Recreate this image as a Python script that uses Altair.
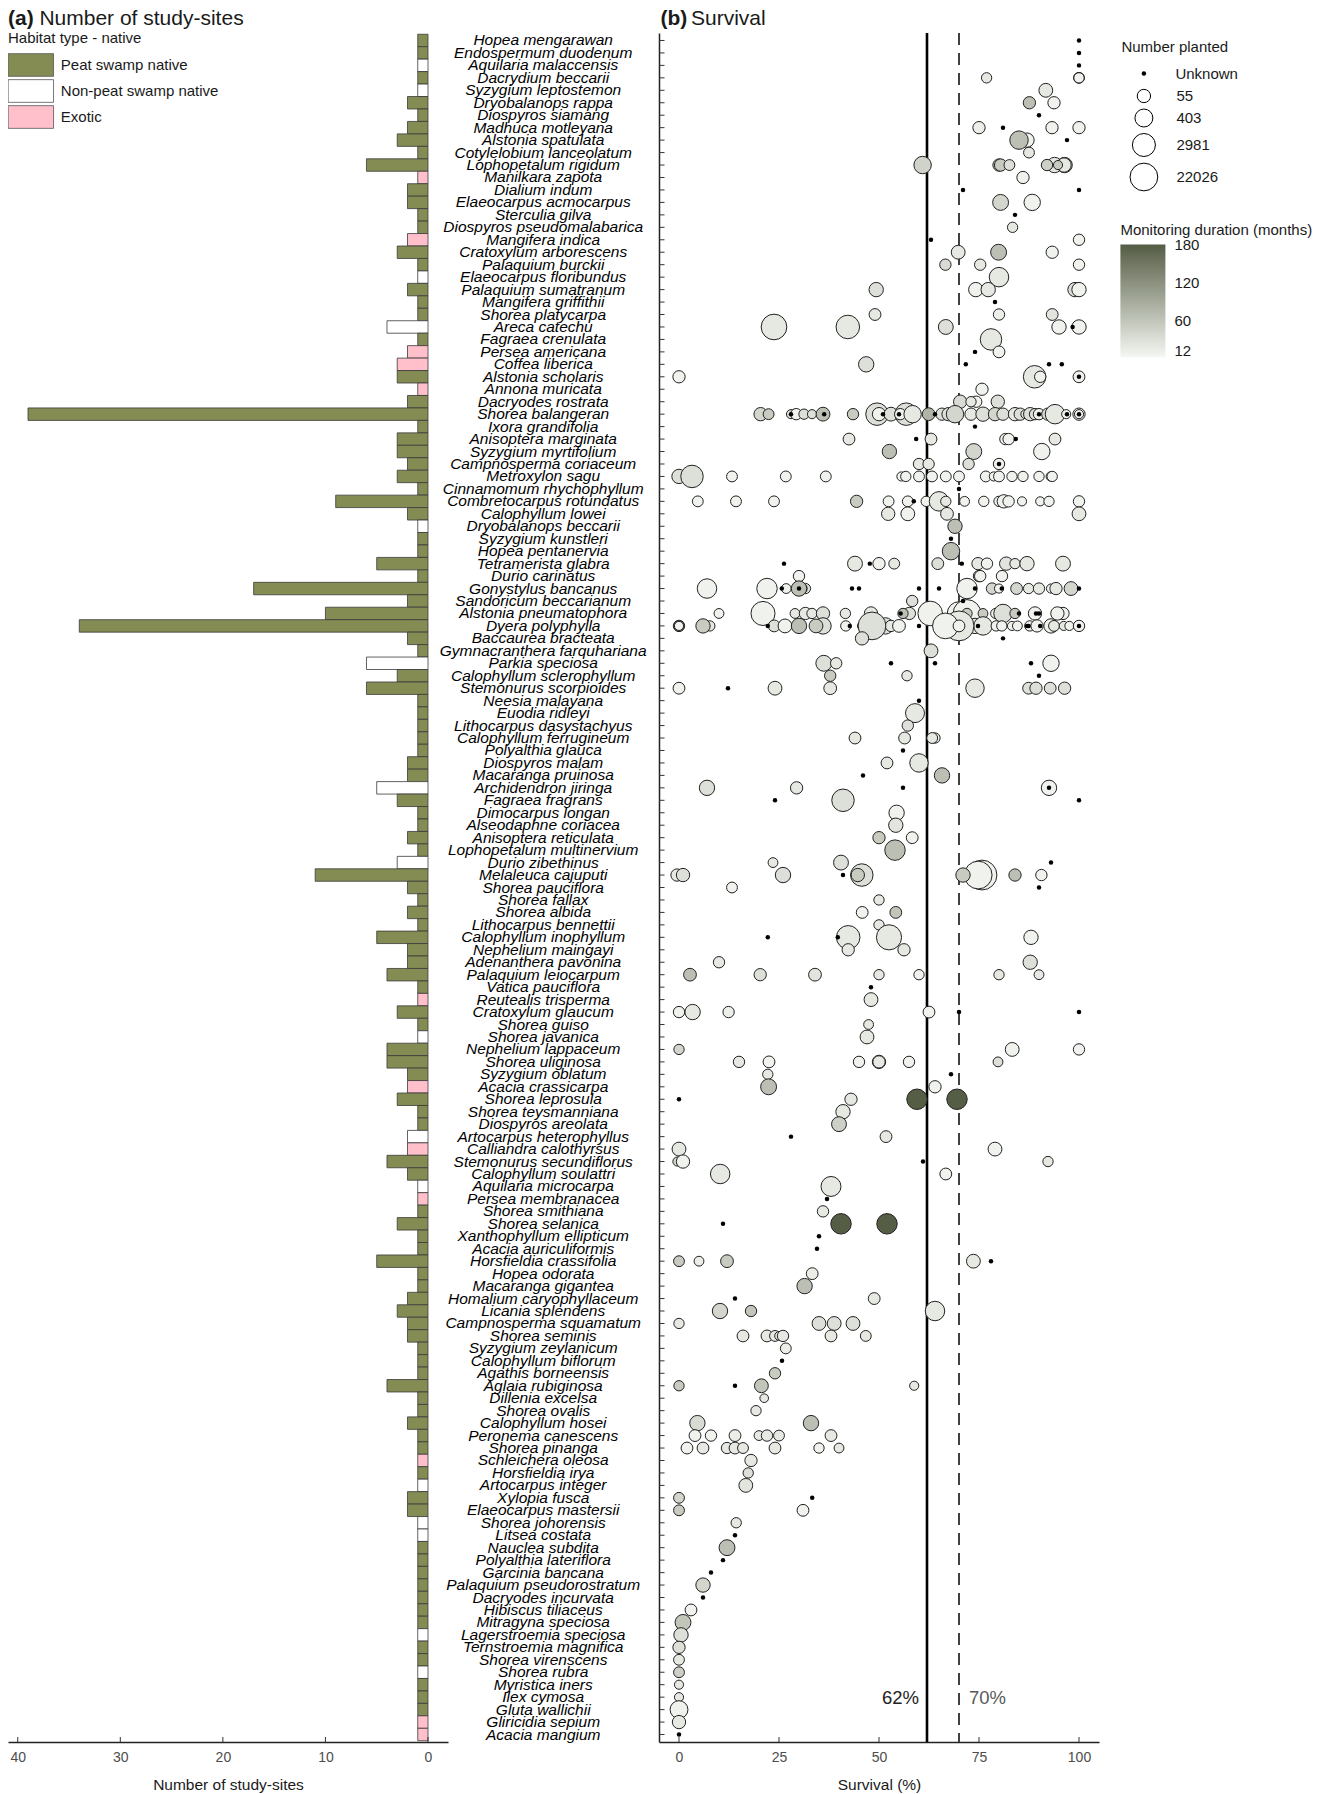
import altair as alt
import pandas as pd

FONT = "Liberation Sans"
species = """Hopea mengarawan|Endospermum duodenum|Aquilaria malaccensis|Dacrydium beccarii|Syzygium leptostemon|Dryobalanops rappa|Diospyros siamang|Madhuca motleyana|Alstonia spatulata|Cotylelobium lanceolatum|Lophopetalum rigidum|Manilkara zapota|Dialium indum|Elaeocarpus acmocarpus|Sterculia gilva|Diospyros pseudomalabarica|Mangifera indica|Cratoxylum arborescens|Palaquium burckii|Elaeocarpus floribundus|Palaquium sumatranum|Mangifera griffithii|Shorea platycarpa|Areca catechu|Fagraea crenulata|Persea americana|Coffea liberica|Alstonia scholaris|Annona muricata|Dacryodes rostrata|Shorea balangeran|Ixora grandifolia|Anisoptera marginata|Syzygium myrtifolium|Campnosperma coriaceum|Metroxylon sagu|Cinnamomum rhychophyllum|Combretocarpus rotundatus|Calophyllum lowei|Dryobalanops beccarii|Syzygium kunstleri|Hopea pentanervia|Tetramerista glabra|Durio carinatus|Gonystylus bancanus|Sandoricum beccarianum|Alstonia pneumatophora|Dyera polyphylla|Baccaurea bracteata|Gymnacranthera farquhariana|Parkia speciosa|Calophyllum sclerophyllum|Stemonurus scorpioides|Neesia malayana|Euodia ridleyi|Lithocarpus dasystachyus|Calophyllum ferrugineum|Polyalthia glauca|Diospyros malam|Macaranga pruinosa|Archidendron jiringa|Fagraea fragrans|Dimocarpus longan|Alseodaphne coriacea|Anisoptera reticulata|Lophopetalum multinervium|Durio zibethinus|Melaleuca cajuputi|Shorea pauciflora|Shorea fallax|Shorea albida|Lithocarpus bennettii|Calophyllum inophyllum|Nephelium maingayi|Adenanthera pavonina|Palaquium leiocarpum|Vatica pauciflora|Reutealis trisperma|Cratoxylum glaucum|Shorea guiso|Shorea javanica|Nephelium lappaceum|Shorea uliginosa|Syzygium oblatum|Acacia crassicarpa|Shorea leprosula|Shorea teysmanniana|Diospyros areolata|Artocarpus heterophyllus|Calliandra calothyrsus|Stemonurus secundiflorus|Calophyllum soulattri|Aquilaria microcarpa|Persea membranacea|Shorea smithiana|Shorea selanica|Xanthophyllum ellipticum|Acacia auriculiformis|Horsfieldia crassifolia|Hopea odorata|Macaranga gigantea|Homalium caryophyllaceum|Licania splendens|Campnosperma squamatum|Shorea seminis|Syzygium zeylanicum|Calophyllum biflorum|Agathis borneensis|Aglaia rubiginosa|Dillenia excelsa|Shorea ovalis|Calophyllum hosei|Peronema canescens|Shorea pinanga|Schleichera oleosa|Horsfieldia irya|Artocarpus integer|Xylopia fusca|Elaeocarpus mastersii|Shorea johorensis|Litsea costata|Nauclea subdita|Polyalthia lateriflora|Garcinia bancana|Palaquium pseudorostratum|Dacryodes incurvata|Hibiscus tiliaceus|Mitragyna speciosa|Lagerstroemia speciosa|Ternstroemia magnifica|Shorea virenscens|Shorea rubra|Myristica iners|Ilex cymosa|Gluta wallichii|Gliricidia sepium|Acacia mangium""".split("|")

sites = [1,1,1,1,1,2,1,2,3,1,
         6,1,2,2,1,1,2,3,1,1,
         2,1,1,4,1,2,3,3,1,2,
         39,1,3,3,2,3,1,9,2,1,
         1,1,5,1,17,2,10,34,2,1,
         6,3,6,1,1,1,1,1,2,2,
         5,3,1,1,2,1,3,11,2,1,
         2,1,5,2,2,4,1,1,3,1,
         1,4,4,2,2,3,1,1,2,2,
         4,2,1,1,1,3,1,1,5,1,
         1,2,3,2,2,1,1,1,4,1,
         1,2,1,1,1,1,1,2,2,1,
         1,1,1,1,1,1,1,1,1,1,
         1,1,1,1,1,1,1]

# P = peat swamp native, N = non-peat swamp native, E = exotic
habitat_codes = ("PPNPNPPPPP" "PEPPPPEPPN" "PPPNPEEPEP" "PPPPPPPPPN" "PPPPPPPPPP"
                 "NPPPPPPPPP" "NPPPPPNPPP" "PPPPPPPEPP" "NPPPEPPPNE" "PPNEPPPPPP"
                 "PPPPPPPPPP" "PPPPEPNPPN" "NPPPPPPPNP" "PNPPPEE")
habitat_names = {"P": "Peat swamp native", "N": "Non-peat swamp native", "E": "Exotic"}
habitat_order = ["Peat swamp native", "Non-peat swamp native", "Exotic"]
habitat_colors = ["#848C53", "#FFFFFF", "#FFC0CB"]

# (survival %, number planted [1 = unknown], monitoring months), one list per species
points = [
 [(100,1,0)],
 [(100,1,0)],
 [(100,1,0)],
 [(76.9,9,19),(100,12,8),(100,9,8)],
 [(91.7,66,19)],
 [(87.6,28,66),(93.75,28,8)],
 [(90,1,0)],
 [(75,28,12),(81,1,0),(93.25,28,8),(100,28,8)],
 [(87,81,8),(85,483,66),(97,1,0)],
 [(87.5,12,19)],
 [(60.9,313,45),(80,28,54),(80.4,28,54),(82.6,12,29),(93.9,123,19),(96.4,123,19),(96.25,81,19),(92,16,48),(94.75,5,54)],
 [(86,28,8)],
 [(71,1,0),(100,1,0)],
 [(80.4,155,41),(88.3,194,8)],
 [(84,1,0)],
 [(83.4,9,19)],
 [(63,1,0),(100,16,8)],
 [(69.8,66,19),(79.9,155,66),(93.3,28,8)],
 [(66.6,16,35),(75.3,16,19),(100,16,8)],
 [(80,700,19)],
 [(49.3,81,29),(74.2,81,8),(77.3,81,19),(99,81,29),(100,81,8)],
 [(79,1,0)],
 [(49,21,19),(80,16,12),(93.3,21,24)],
 [(23.75,8700,19),(42.2,3640,19),(66.7,100,29),(95,81,8),(100,81,8),(98.4,1,0)],
 [(78,1540,19)],
 [(74,1,0),(80,21,8)],
 [(46.8,123,29),(71.7,1,0),(92.5,1,0),(95.7,1,0)],
 [(0,28,8),(88.9,2370,19),(90.3,16,8),(100,21,8),(100,1,0)],
 [(75.75,28,8)],
 [(70.3,55,35),(74.3,16,8),(73,9,19),(79.7,55,29)],
 [(20.4,55,41),(22.4,12,54),(28,5,29),(29.3,16,8),(28,1,0),(31.25,9,29),(33.25,5,29),(36,66,66),(36.3,1,0),(43.5,16,54),(49.5,2370,29),(50,55,8),(51,1,0),(53,66,29),(56.8,2370,29),(55.3,16,8),(55,1,0),(58.4,313,19),(62.4,38,80),(64,1,0),(65.75,28,29),(67.4,55,29),(69,313,41),(73,28,19),(76,81,29),(79,55,41),(81,28,29),(84,55,19),(85.3,28,29),(86.6,5,29),(87.8,55,29),(89,16,29),(90,16,8),(90,1,0),(92.2,28,41),(94,700,19),(96.8,5,8),(97,1,0),(100,28,8),(100,5,8),(100,1,0)],
 [(74,1,0)],
 [(42.5,21,19),(59.3,1,0),(63,21,19),(81.6,16,8),(82.4,16,8),(84.2,1,0),(94,21,19)],
 [(52.6,81,66),(73.7,155,41),(90.7,194,8)],
 [(60,16,19),(62.4,16,19),(72.4,16,29),(80,16,8),(80,1,0)],
 [(0,81,29),(3.25,2370,29),(13.25,12,8),(26.7,12,8),(36.7,12,8),(55.6,5,8),(56.7,9,8),(60,12,8),(63.25,12,8),(66.7,12,8),(70,12,8),(76.7,12,8),(78.7,5,8),(80,12,8),(83.25,9,8),(86,9,8),(90,9,8),(92.9,5,8),(93.3,9,8)],
 [(70,1,0)],
 [(4.7,12,8),(14.25,12,8),(23.75,12,8),(44.4,28,54),(52.4,12,8),(57.2,12,8),(58.7,1,0),(61.8,9,8),(65,700,19),(66.7,9,19),(71.4,7,8),(76.2,9,8),(80,9,8),(81.2,55,8),(82.4,16,8),(85.75,5,8),(90.3,5,8),(92.5,9,8),(100,16,8)],
 [(52.3,55,19),(57.2,66,8),(67,38,19),(100,66,19)],
 [(69,81,66)],
 [(68,1,0)],
 [(68,313,66)],
 [(26.25,1,0),(44,100,19),(47.7,1,0),(50,28,8),(53.8,12,19),(64.7,21,29),(70.7,1,0),(74.75,28,19),(77,16,8),(81.8,55,24),(84,9,19),(87,81,19),(96,100,19)],
 [(30,16,8),(75,16,8),(75.3,16,8),(80.75,16,8)],
 [(7,700,8),(22,1020,8),(25.7,1,0),(26.8,7,8),(31.6,9,29),(30.75,9,29),(30,123,66),(30,1,0),(43.25,1,0),(45,1,0),(60,1,0),(65,1,0),(72,1020,8),(74,1,0),(78.25,16,41),(80,5,8),(80.7,1,0),(84.4,21,41),(87.4,9,19),(90,16,19),(93,5,8),(94.25,28,19),(98,66,41),(100,1,0)],
 [(58.3,16,29),(71,1,0)],
 [(10,7,8),(21,4500,8),(29,7,19),(31.6,28,19),(33.25,9,19),(36,55,29),(41.6,9,19),(48,55,19),(57.6,28,29),(56,9,66),(55.4,1,0),(62.8,5590,8),(70,3640,8),(72,22026,8),(72,9,54),(76,7,54),(79.2,9,8),(81,483,29),(84,9,54),(85,1,0),(89,55,8),(89.25,1,0),(90,1,0),(96,28,8),(94.6,55,8)],
 [(0,16,8),(0,9,8),(0,5,8),(7.7,9,19),(6,81,54),(22.2,1,0),(23.8,21,29),(26.5,66,8),(36,194,29),(30,123,66),(34.25,66,54),(41.7,9,8),(42.7,1,0),(45.75,5,29),(51.6,194,29),(53,16,19),(55,38,8),(48.25,22026,29),(60,1,0),(74,123,19),(76,483,19),(70,60000,19),(66.6,8700,8),(70,21,8),(74.75,1,0),(79.3,9,8),(80.7,9,8),(83.25,5,8),(84.6,7,8),(87.7,9,8),(87,1,0),(87.4,1,0),(89.5,28,8),(93,81,8),(90.3,1,0),(93.75,12,19),(96.2,5,19),(97.6,5,8),(100,16,8),(100,1,0)],
 [(45.75,55,29),(81,1,0)],
 [(63,66,29)],
 [(36.2,155,29),(39.3,16,19),(53,1,0),(64,1,0),(88,1,0),(93,194,8)],
 [(37.8,16,54),(57,9,19),(90,1,0)],
 [(0,21,8),(12.25,1,0),(24,66,19),(37.8,38,19),(74,483,19),(87.4,21,29),(89.25,28,29),(92.8,21,29),(96.4,28,29)],
 [(60,1,0)],
 [(59,580,19)],
 [(57.2,16,29)],
 [(44,21,19),(56.4,21,19),(64,9,8),(63.3,12,19)],
 [(56,1,0)],
 [(52,21,19),(60,483,19)],
 [(46,1,0),(65.75,123,66)],
 [(7,123,29),(29.4,28,19),(56,1,0),(92.5,123,8),(92.5,1,0)],
 [(24,1,0),(41,2370,29),(100,1,0)],
 [(54.4,123,8)],
 [(54.2,81,24)],
 [(50,28,54),(58.3,21,8)],
 [(54,1020,66)],
 [(23.5,7,19),(40.5,100,29),(93,1,0)],
 [(-0.5,28,19),(1,55,29),(26,123,29),(41,1,0),(45.7,2370,29),(44.7,55,54),(75.75,60000,8),(74.8,22026,8),(71,81,54),(84,28,66),(90.6,16,8)],
 [(13.25,12,8),(90,1,0)],
 [(50,9,19)],
 [(45.8,21,8),(54.2,21,60)],
 [(50,9,19)],
 [(22.2,1,0),(42.3,3640,19),(39.7,1,0),(52.5,7000,19),(88,81,8)],
 [(42.3,28,19),(56.25,28,19)],
 [(10,16,19),(87.8,81,29)],
 [(2.75,38,66),(20.3,28,29),(34,38,24),(50,9,19),(60,9,8),(80,9,19),(90,7,19)],
 [(48,1,0)],
 [(48,66,19)],
 [(0,16,8),(3.4,123,19),(12.4,16,12),(62.5,21,8),(70,1,0),(100,1,0)],
 [(47.4,7,19)],
 [(47,66,19)],
 [(0,9,41),(83.3,66,8),(100,16,8)],
 [(15,16,19),(22.5,21,8),(45,16,8),(50,55,19),(50,28,19),(57.5,16,8),(79.75,7,29)],
 [(22.2,9,19),(68,1,0)],
 [(22.4,155,66),(64,28,8)],
 [(0,1,0),(43,28,19),(59.5,1020,180),(69.5,1020,180)],
 [(41,81,19)],
 [(40,100,48)],
 [(28,1,0),(51.75,21,19)],
 [(0,66,19),(79,66,8)],
 [(-0.4,5,41),(1,55,8),(61,1,0),(92.25,9,19)],
 [(10.3,700,19),(66.7,21,8)],
 [(38,840,19)],
 [(37,1,0)],
 [(36,16,19)],
 [(11,1,0),(40.5,1020,180),(52,1020,180)],
 [(35,1,0)],
 [(34.5,1,0)],
 [(0,12,54),(5,7,14),(12,38,54),(73.6,66,19),(78,1,0)],
 [(33.3,21,14)],
 [(31.4,123,66)],
 [(14,1,0),(48.8,21,19)],
 [(10.25,123,41),(18,16,60),(64,700,19)],
 [(0,9,19),(35,66,29),(38.8,66,29),(43.5,66,29)],
 [(16,21,19),(22,21,19),(24,12,19),(25,4,19),(26,16,19),(38,21,19),(46.7,12,19)],
 [(26.7,12,14)],
 [(25.75,1,0)],
 [(24,16,54)],
 [(0,9,54),(14,1,0),(20.6,66,60),(58.8,5,19)],
 [(21.3,4,19)],
 [(19.25,9,19)],
 [(4.6,123,35),(33,123,66)],
 [(4,21,8),(8,16,8),(14,21,14),(20,7,19),(22,16,19),(25,12,19),(38,21,19)],
 [(2,21,8),(6,21,19),(12,16,19),(14,21,19),(16,12,19),(24,21,19),(35,9,8),(40,7,19)],
 [(18,28,19)],
 [(17.3,9,29)],
 [(16.7,66,24)],
 [(0,12,41),(33.3,1,0)],
 [(0,12,54),(31,21,8)],
 [(14.3,9,19)],
 [(14,1,0)],
 [(12,155,66)],
 [(11,1,0)],
 [(8,1,0)],
 [(6,81,41)],
 [(6,1,0)],
 [(3,21,8)],
 [(1,155,60)],
 [(0.5,81,29)],
 [(0,28,29)],
 [(0,12,19)],
 [(0,12,48)],
 [(0,5,19)],
 [(0,5,19)],
 [(0,390,8)],
 [(0,55,19)],
 [(0,1,0)],
]

assert len(species) == len(sites) == len(habitat_codes) == len(points)

left_ticks = [40, 30, 20, 10, 0]
right_ticks = [0, 25, 50, 75, 100]
size_values = [55, 403, 2981, 22026]
size_domain = [1, 55, 403, 2981, 22026]
size_range = [20, 178, 322, 530, 770]
month_values = [12, 60, 120, 180]

bars_df = pd.DataFrame({"species": species, "sites": sites, "base": 0,
                        "habitat": [habitat_names[c] for c in habitat_codes]})
rows = [{"species": s, "survival": p[0], "planted": p[1], "months": p[2], "kind": "Unknown"}
        for s, pts in zip(species, points) for p in pts]
all_df = pd.DataFrame(rows)
circles_df = all_df[all_df.planted > 1]
dots_df = all_df[all_df.planted == 1]

W, H = 440, 1709
y_scale = alt.Scale(domain=species, paddingInner=0, paddingOuter=0.1)
lx = alt.Scale(domain=[40.95, -1.95], nice=False)
rx = alt.Scale(domain=[-5, 105], nice=False, zero=False)
TXT = "#1a1a1a"
TICK = "#4d4d4d"


def x_axis(title, values):
    return alt.Axis(title=title, values=values, ticks=False, grid=False, domainColor="#222222",
                    domainWidth=1.5, labelFontSize=14, labelColor=TICK, labelPadding=8,
                    titleFontSize=15.5, titleFontWeight="normal", titleColor=TXT, titlePadding=13,
                    format="d")


def label(text, x, y, size, weight="normal", color=TXT):
    return alt.Chart(pd.DataFrame({"t": [text]})).mark_text(
        align="left", baseline="alphabetic", fontSize=size, fontWeight=weight, color=color, font=FONT
    ).encode(text="t:N", x=alt.value(x), y=alt.value(y))


bars = alt.Chart(bars_df).mark_bar(stroke="#3a3a3a", strokeWidth=0.8).encode(
    x=alt.X("sites:Q", scale=lx, axis=x_axis("Number of study-sites", left_ticks), stack=None),
    x2=alt.X2("base:Q"),
    y=alt.Y("species:N", scale=y_scale, axis=None),
    fill=alt.Fill("habitat:N", scale=alt.Scale(domain=habitat_order, range=habitat_colors),
                  legend=alt.Legend(orient="none", legendX=10.85, legendY=20, title=None,
                                    symbolType="M-2,-1H2V1H-2Z", symbolSize=515,
                                    symbolStrokeColor="#555555", symbolStrokeWidth=0.8,
                                    labelFontSize=15, labelColor=TXT, labelOffset=18,
                                    rowPadding=0, labelFont=FONT)),
)
left_tick_marks = alt.Chart(pd.DataFrame({"v": left_ticks})).mark_rule(
    color="#333333", strokeWidth=1).encode(
    x=alt.X("v:Q", scale=lx, axis=x_axis("Number of study-sites", left_ticks)),
    y=alt.value(H - 5), y2=alt.value(H))
left = alt.layer(
    bars, left_tick_marks,
    label("(a)", 0, -8, 21, "bold"),
    label("Number of study-sites", 31.4, -8, 21),
    label("Habitat type - native", 0, 9.5, 15),
).properties(width=W, height=H)

y_axis = alt.Axis(title=None, ticks=False, domainColor="#222222", domainWidth=1.5, grid=False,
                  labelAlign="center", labelPadding=116.3, labelFontStyle="italic", labelFontSize=15.5,
                  labelColor="#000000", labelOverlap=False, labelLimit=400, labelFont=FONT)
size_enc = alt.Size("planted:Q",
                    scale=alt.Scale(type="log", domain=size_domain, range=size_range),
                    legend=alt.Legend(
                        orient="none", legendX=462.4, legendY=55.5, title=None,
                        values=size_values, labelFontSize=15, labelColor=TXT, format="d",
                        symbolOffset=8, labelOffset=18, rowPadding=1, symbolType="circle",
                        symbolFillColor="#FFFFFF", symbolStrokeColor="#000000",
                        symbolStrokeWidth=1))
base_x = alt.X("survival:Q", scale=rx, axis=x_axis("Survival (%)", right_ticks))
base_y = alt.Y("species:N", scale=y_scale, axis=y_axis)

solid = alt.Chart(pd.DataFrame({"v": [62]})).mark_rule(color="#000000", strokeWidth=2.6).encode(
    x=alt.X("v:Q", scale=rx, axis=x_axis("Survival (%)", right_ticks)))
dashed = alt.Chart(pd.DataFrame({"v": [70]})).mark_rule(
    color="#404040", strokeWidth=2, strokeDash=[12, 8]).encode(x=alt.X("v:Q", scale=rx))
t62 = alt.Chart(pd.DataFrame({"v": [62], "t": ["62%"]})).mark_text(
    align="right", dx=-8, fontSize=18.5, color="#222222", font=FONT).encode(
    x=alt.X("v:Q", scale=rx), y=alt.value(1665), text="t:N")
t70 = alt.Chart(pd.DataFrame({"v": [70], "t": ["70%"]})).mark_text(
    align="left", dx=10, fontSize=18.5, color="#595959", font=FONT).encode(
    x=alt.X("v:Q", scale=rx), y=alt.value(1665), text="t:N")
y_tick_marks = alt.Chart(pd.DataFrame({"species": species})).mark_rule(
    color="#333333", strokeWidth=1).encode(
    y=base_y, x=alt.value(0), x2=alt.value(5.5))
x_tick_marks = alt.Chart(pd.DataFrame({"v": right_ticks})).mark_rule(
    color="#333333", strokeWidth=1).encode(
    x=alt.X("v:Q", scale=rx), y=alt.value(H - 5), y2=alt.value(H))
circles = alt.Chart(circles_df).mark_circle(
    stroke="#222222", strokeWidth=1, opacity=1).encode(
    x=base_x, y=base_y, size=size_enc,
    fill=alt.Fill("months:Q",
                  scale=alt.Scale(domain=[2, 181], range=["#F5F8F3", "#555C44"], interpolate="rgb"),
                  legend=alt.Legend(orient="none", legendX=461.4, legendY=190,
                                    title="Monitoring duration (months)", values=month_values,
                                    gradientLength=113, gradientThickness=45,
                                    gradientStrokeWidth=0, titleFontSize=15, titleLimit=400,
                                    titleFontWeight="normal", titleColor=TXT, titlePadding=6.5,
                                    labelFontSize=15, labelColor=TXT, labelOffset=9)),
)
dots = alt.Chart(dots_df).mark_point(
    filled=True, fill="#000000", size=20, opacity=1, strokeWidth=0).encode(
    x=base_x, y=base_y,
    shape=alt.Shape("kind:N", scale=alt.Scale(domain=["Unknown"], range=["circle"]),
                    legend=alt.Legend(orient="none", legendX=462.4, legendY=7,
                                      title="Number planted", titleFontSize=15,
                                      titleFontWeight="normal", titleColor=TXT, titlePadding=11,
                                      labelFontSize=15, labelColor=TXT, symbolOffset=15,
                                      labelOffset=24, symbolSize=20, symbolFillColor="#000000",
                                      symbolStrokeColor="#000000")))
right = alt.layer(
    solid, dashed, t62, t70, y_tick_marks, x_tick_marks, circles, dots,
    label("(b)", 1.5, -8, 21, "bold"),
    label("Survival", 32, -8, 21),
).properties(width=W, height=H)

chart = alt.hconcat(left, right, spacing=-9).resolve_scale(
    fill="independent", size="independent", shape="independent"
).properties(
    padding={"left": 0, "top": 0, "right": 0, "bottom": 0}
).configure(font=FONT).configure_view(strokeWidth=0)

chart.save("out.html", embed_options={"renderer": "svg", "actions": False})
